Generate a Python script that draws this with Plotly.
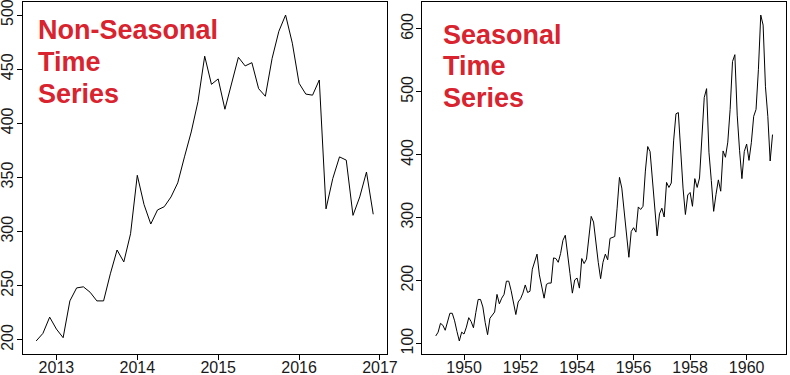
import plotly.graph_objects as go

# ---------------- data ----------------
# Non-seasonal monthly series, Oct 2012 .. Dec 2016
ns_start_year = 2012
ns_start_month = 10
ns_values = [199, 206, 221, 210, 202, 236, 248, 249, 244, 236, 236, 261,
             283, 272, 298, 352, 325, 307, 320, 323, 332, 345, 369, 392,
             420, 462, 436, 441, 413, 437, 461, 453, 456, 432, 425, 460,
             485, 500, 474, 437, 427, 426, 440, 321, 349, 369, 366, 315,
             332, 355, 316]

# Seasonal monthly series (air passengers), Jan 1949 .. Dec 1960
s_start_year = 1949
s_start_month = 1
s_values = [112, 118, 132, 129, 121, 135, 148, 148, 136, 119, 104, 118,
            115, 126, 141, 135, 125, 149, 170, 170, 158, 133, 114, 140,
            145, 150, 178, 163, 172, 178, 199, 199, 184, 162, 146, 166,
            171, 180, 193, 181, 183, 218, 230, 242, 209, 191, 172, 194,
            196, 196, 236, 235, 229, 243, 264, 272, 237, 211, 180, 201,
            204, 188, 235, 227, 234, 264, 302, 293, 259, 229, 203, 229,
            242, 233, 267, 269, 270, 315, 364, 347, 312, 274, 237, 278,
            284, 277, 317, 313, 318, 374, 413, 405, 355, 306, 271, 306,
            315, 301, 356, 348, 355, 422, 465, 467, 404, 347, 305, 336,
            340, 318, 362, 348, 363, 435, 491, 505, 404, 359, 310, 337,
            360, 342, 406, 396, 420, 472, 548, 559, 463, 407, 362, 405,
            417, 391, 419, 461, 472, 535, 622, 606, 508, 461, 390, 432]

ns_xticks = [2013, 2014, 2015, 2016, 2017]
ns_yticks = [200, 250, 300, 350, 400, 450, 500]
s_xticks = [1950, 1952, 1954, 1956, 1958, 1960]
s_yticks = [100, 200, 300, 400, 500, 600]

ns_title = ["Non-Seasonal", "Time", "Series"]
s_title = ["Seasonal", "Time", "Series"]

# ---------------- build ----------------
ns_x = [ns_start_year + (ns_start_month - 1) / 12 + i / 12 for i in range(len(ns_values))]
s_x = [s_start_year + (s_start_month - 1) / 12 + i / 12 for i in range(len(s_values))]


def rrange(v):
    lo, hi = min(v), max(v)
    d = (hi - lo) * 0.04
    return [lo - d, hi + d]


W, H = 790, 375
FONT = "Liberation Sans, Arial, sans-serif"
RED = "#d9232e"

fig = go.Figure()
fig.add_trace(go.Scatter(x=ns_x, y=ns_values, mode="lines",
                         line=dict(color="black", width=1),
                         xaxis="x", yaxis="y", hoverinfo="skip"))
fig.add_trace(go.Scatter(x=s_x, y=s_values, mode="lines",
                         line=dict(color="black", width=1),
                         xaxis="x2", yaxis="y2", hoverinfo="skip"))

common = dict(showline=True, linecolor="black", linewidth=1, mirror=True,
              ticks="outside", ticklen=5, tickcolor="black", tickwidth=1,
              showgrid=False, zeroline=False, automargin=False,
              ticklabeloverflow="allow",
              tickfont=dict(family=FONT, size=16, color="#1a1a1a"))
xextra = dict(ticklabelstandoff=-6)
yextra = dict(tickangle=-90, ticklabelstandoff=-3)

ydom = [(H - 354) / H, (H - 2) / H]

fig.update_layout(
    width=W, height=H,
    margin=dict(l=0, r=0, t=0, b=0),
    paper_bgcolor="white", plot_bgcolor="white",
    showlegend=False,
    xaxis=dict(domain=[22.7 / W, 386.7 / W], range=rrange(ns_x),
               tickmode="array", tickvals=ns_xticks,
               ticktext=[str(t) for t in ns_xticks], **common, **xextra),
    yaxis=dict(domain=ydom, range=rrange(ns_values),
               tickmode="array", tickvals=ns_yticks,
               ticktext=[str(t) for t in ns_yticks], **common, **yextra),
    xaxis2=dict(domain=[422.3 / W, 786 / W], range=rrange(s_x), anchor="y2",
                tickmode="array", tickvals=s_xticks,
                ticktext=[str(t) for t in s_xticks], **common, **xextra),
    yaxis2=dict(domain=ydom, range=rrange(s_values), anchor="x2",
                tickmode="array", tickvals=s_yticks,
                ticktext=[str(t) for t in s_yticks], **common, **yextra),
)

anns = []
for txt, top in zip(ns_title, [13.3, 45, 77.3]):
    anns.append(dict(xref="paper", yref="paper", x=36 / W, y=1 - top / H,
                     xanchor="left", yanchor="top", showarrow=False, text="<b>%s</b>" % txt,
                     font=dict(family=FONT, size=27, color=RED)))
for txt, top in zip(s_title, [18, 49, 81.3]):
    anns.append(dict(xref="paper", yref="paper", x=441 / W, y=1 - top / H,
                     xanchor="left", yanchor="top", showarrow=False, text="<b>%s</b>" % txt,
                     font=dict(family=FONT, size=27, color=RED)))
fig.update_layout(annotations=anns)

fig.write_html("out.html",
               config={"displayModeBar": False},
               post_script="document.body.style.margin='0';document.body.style.padding='0';")
